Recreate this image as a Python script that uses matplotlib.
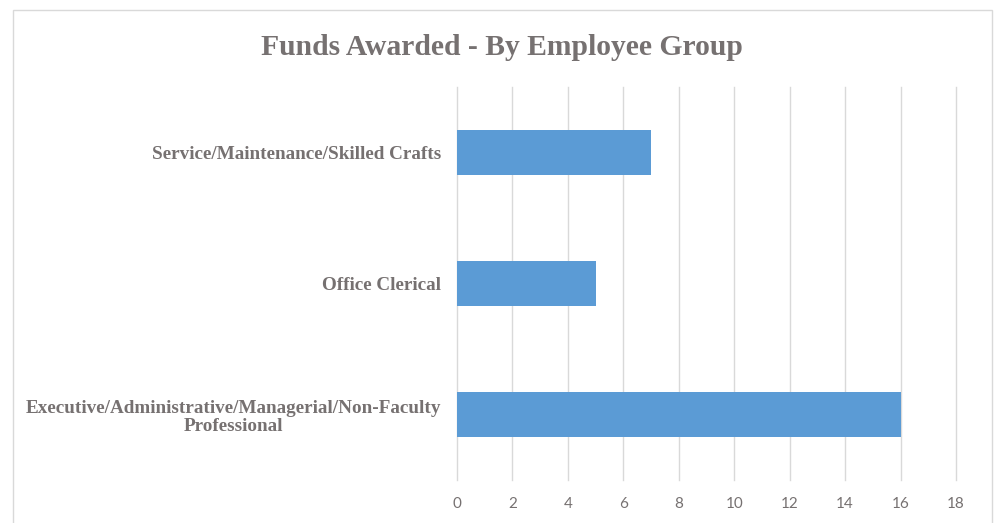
import matplotlib.pyplot as plt
from matplotlib.patches import Rectangle

categories = [
    "Executive/Administrative/Managerial/Non-Faculty\nProfessional",
    "Office Clerical",
    "Service/Maintenance/Skilled Crafts",
]
funds = [16, 5, 7]
x_ticks = [0, 2, 4, 6, 8, 10, 12, 14, 16, 18]

gray = "#767171"
bar_color = "#5b9bd5"

fig = plt.figure(figsize=(9.94, 5.23), dpi=100)
ax = fig.add_axes([0.4598, 0.0822, 0.502, 0.7515])

# chart border
fig.patches.append(Rectangle((13 / 994, -0.1), 979 / 994, 1.1 - 10 / 523,
                             transform=fig.transFigure, fill=False,
                             edgecolor="#d9d9d9", linewidth=1.0))

ax.barh(range(len(categories)), funds, height=0.35, color=bar_color, zorder=3)
ax.set_xlim(0, 18)
ax.set_ylim(-0.5, len(categories) - 0.5)
ax.set_xticks(x_ticks)
ax.set_yticks(range(len(categories)))
ax.set_yticklabels(categories, family="Liberation Serif", fontweight="bold",
                   fontsize=13.8, color=gray, multialignment="center",
                   linespacing=1.15)
for lbl in ax.get_xticklabels():
    lbl.set_family("Lato")
    lbl.set_fontsize(11)
    lbl.set_color(gray)
ax.tick_params(axis="both", length=0)
ax.tick_params(axis="y", pad=11.5)
ax.tick_params(axis="x", pad=12)
ax.grid(axis="x", color="#d9d9d9", linewidth=1.0, zorder=0)
for gl in ax.get_xgridlines():
    gl.set_clip_on(False)
for s in ax.spines.values():
    s.set_visible(False)

fig.text(0.505, 0.91, "Funds Awarded - By Employee Group", ha="center",
         va="center", family="Liberation Serif", fontweight="bold",
         fontsize=21.3, color=gray)

fig.savefig("out.png", dpi=100)
